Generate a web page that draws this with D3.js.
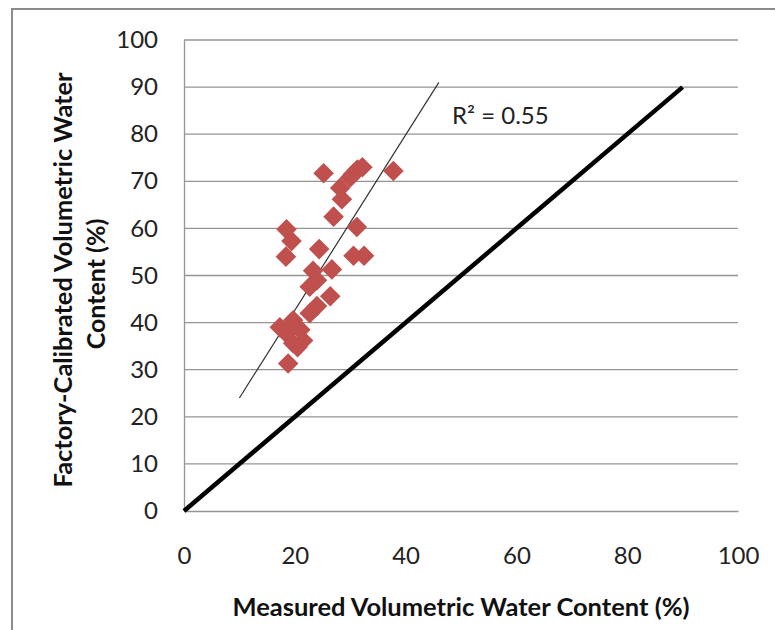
<!DOCTYPE html>
<html>
<head>
<meta charset="utf-8">
<script src="https://cdn.jsdelivr.net/npm/d3@7"></script>
<style>
  body { margin: 0; background: #fff; }
  svg { display: block; }
</style>
</head>
<body>
<svg></svg>
<script>
// measured (x) vs factory-calibrated (y) water content
const measured = [25.2, 30.5, 31.3, 32.2, 30.0, 37.8, 28.2, 28.5, 27.0, 31.2,
                  18.5, 19.4, 24.4, 18.4, 30.6, 32.5, 26.7, 23.3, 22.7, 24.0,
                  26.4, 24.0, 22.7, 19.7, 17.3, 21.0, 18.5, 21.5, 19.7, 20.5, 18.8];
const factory  = [71.7, 71.5, 72.5, 73.0, 70.8, 72.2, 68.6, 66.2, 62.5, 60.3,
                  59.8, 57.3, 55.6, 54.0, 54.2, 54.2, 51.3, 51.0, 47.6, 49.0,
                  45.6, 43.5, 42.0, 40.5, 39.0, 38.5, 37.7, 36.2, 35.6, 34.8, 31.3];
const trendX = [10, 46];
const trendY = [24, 91];
const oneToOne = [0, 90];
const xTicks = [0, 20, 40, 60, 80, 100];
const yTicks = [0, 10, 20, 30, 40, 50, 60, 70, 80, 90, 100];
const r2Label = "R² = 0.55";

const width = 775, height = 630;
const plotL = 184, plotR = 738, plotT = 40, plotB = 511;
const font = "Lato, 'Open Sans', sans-serif";

let svg = d3.select("svg")
  .attr("width", width)
  .attr("height", height);

// outer chart border
svg.append("rect")
  .attr("x", 12).attr("y", 9)
  .attr("width", 800).attr("height", 700)
  .attr("fill", "none")
  .attr("stroke", "#8c8c8c")
  .attr("stroke-width", 2);

const x = d3.scaleLinear().domain([0, 100]).range([plotL, plotR]);
const y = d3.scaleLinear().domain([0, 100]).range([plotB, plotT]);

// gridlines
svg.append("g")
  .selectAll("line")
  .data(yTicks.filter(d => d > 0))
  .enter().append("line")
  .attr("x1", x(0)).attr("x2", x(100))
  .attr("y1", d => y(d)).attr("y2", d => y(d))
  .attr("stroke", "#959595")
  .attr("stroke-width", 1.3);

// axes
let axisY = svg.append("g")
  .attr("transform", `translate(${plotL},0)`)
  .call(d3.axisLeft(y).tickValues(yTicks).tickSize(0).tickPadding(26));
let axisX = svg.append("g")
  .attr("transform", `translate(0,${plotB})`)
  .call(d3.axisBottom(x).tickValues(xTicks).tickSize(0).tickPadding(36));

[axisX, axisY].forEach(a => {
  a.select(".domain").attr("stroke", "#959595").attr("stroke-width", 1.3);
  a.selectAll("text")
    .style("font-family", font)
    .style("font-size", "24px")
    .attr("fill", "#222");
});

// 1:1 line
svg.append("line")
  .attr("x1", x(oneToOne[0])).attr("y1", y(oneToOne[0]))
  .attr("x2", x(oneToOne[1])).attr("y2", y(oneToOne[1]))
  .attr("stroke", "#000")
  .attr("stroke-width", 4.5);

// trendline
svg.append("line")
  .attr("x1", x(trendX[0])).attr("y1", y(trendY[0]))
  .attr("x2", x(trendX[1])).attr("y2", y(trendY[1]))
  .attr("stroke", "#333")
  .attr("stroke-width", 1.2);

// points
const pts = measured.map((m, i) => ({x: m, y: factory[i]}));
svg.append("g")
  .selectAll("path")
  .data(pts)
  .enter().append("path")
  .attr("d", d3.symbol().type(d3.symbolDiamond2).size(270))
  .attr("transform", d => `translate(${x(d.x)},${y(d.y)})`)
  .attr("fill", "#c0504d");

svg.append("text")
  .attr("x", 452).attr("y", 124)
  .style("font-family", font)
  .style("font-size", "24px")
  .attr("fill", "#222")
  .text(r2Label);

// axis titles
svg.append("text")
  .attr("x", 461).attr("y", 616)
  .attr("text-anchor", "middle")
  .attr("textLength", 457)
  .attr("lengthAdjust", "spacingAndGlyphs")
  .style("font-family", font)
  .style("font-size", "25px")
  .style("font-weight", "bold")
  .attr("fill", "#111")
  .text("Measured Volumetric Water Content (%)");

let yTitle = svg.append("text")
  .attr("transform", "translate(0,280) rotate(-90)")
  .attr("text-anchor", "middle")
  .style("font-family", font)
  .style("font-size", "25px")
  .style("font-weight", "bold")
  .attr("fill", "#111");
yTitle.append("tspan").attr("x", 0).attr("y", 72)
  .attr("textLength", 415).attr("lengthAdjust", "spacingAndGlyphs")
  .text("Factory-Calibrated  Volumetric Water");
yTitle.append("tspan").attr("x", -4).attr("y", 105)
  .text("Content (%)");
</script>
</body>
</html>
